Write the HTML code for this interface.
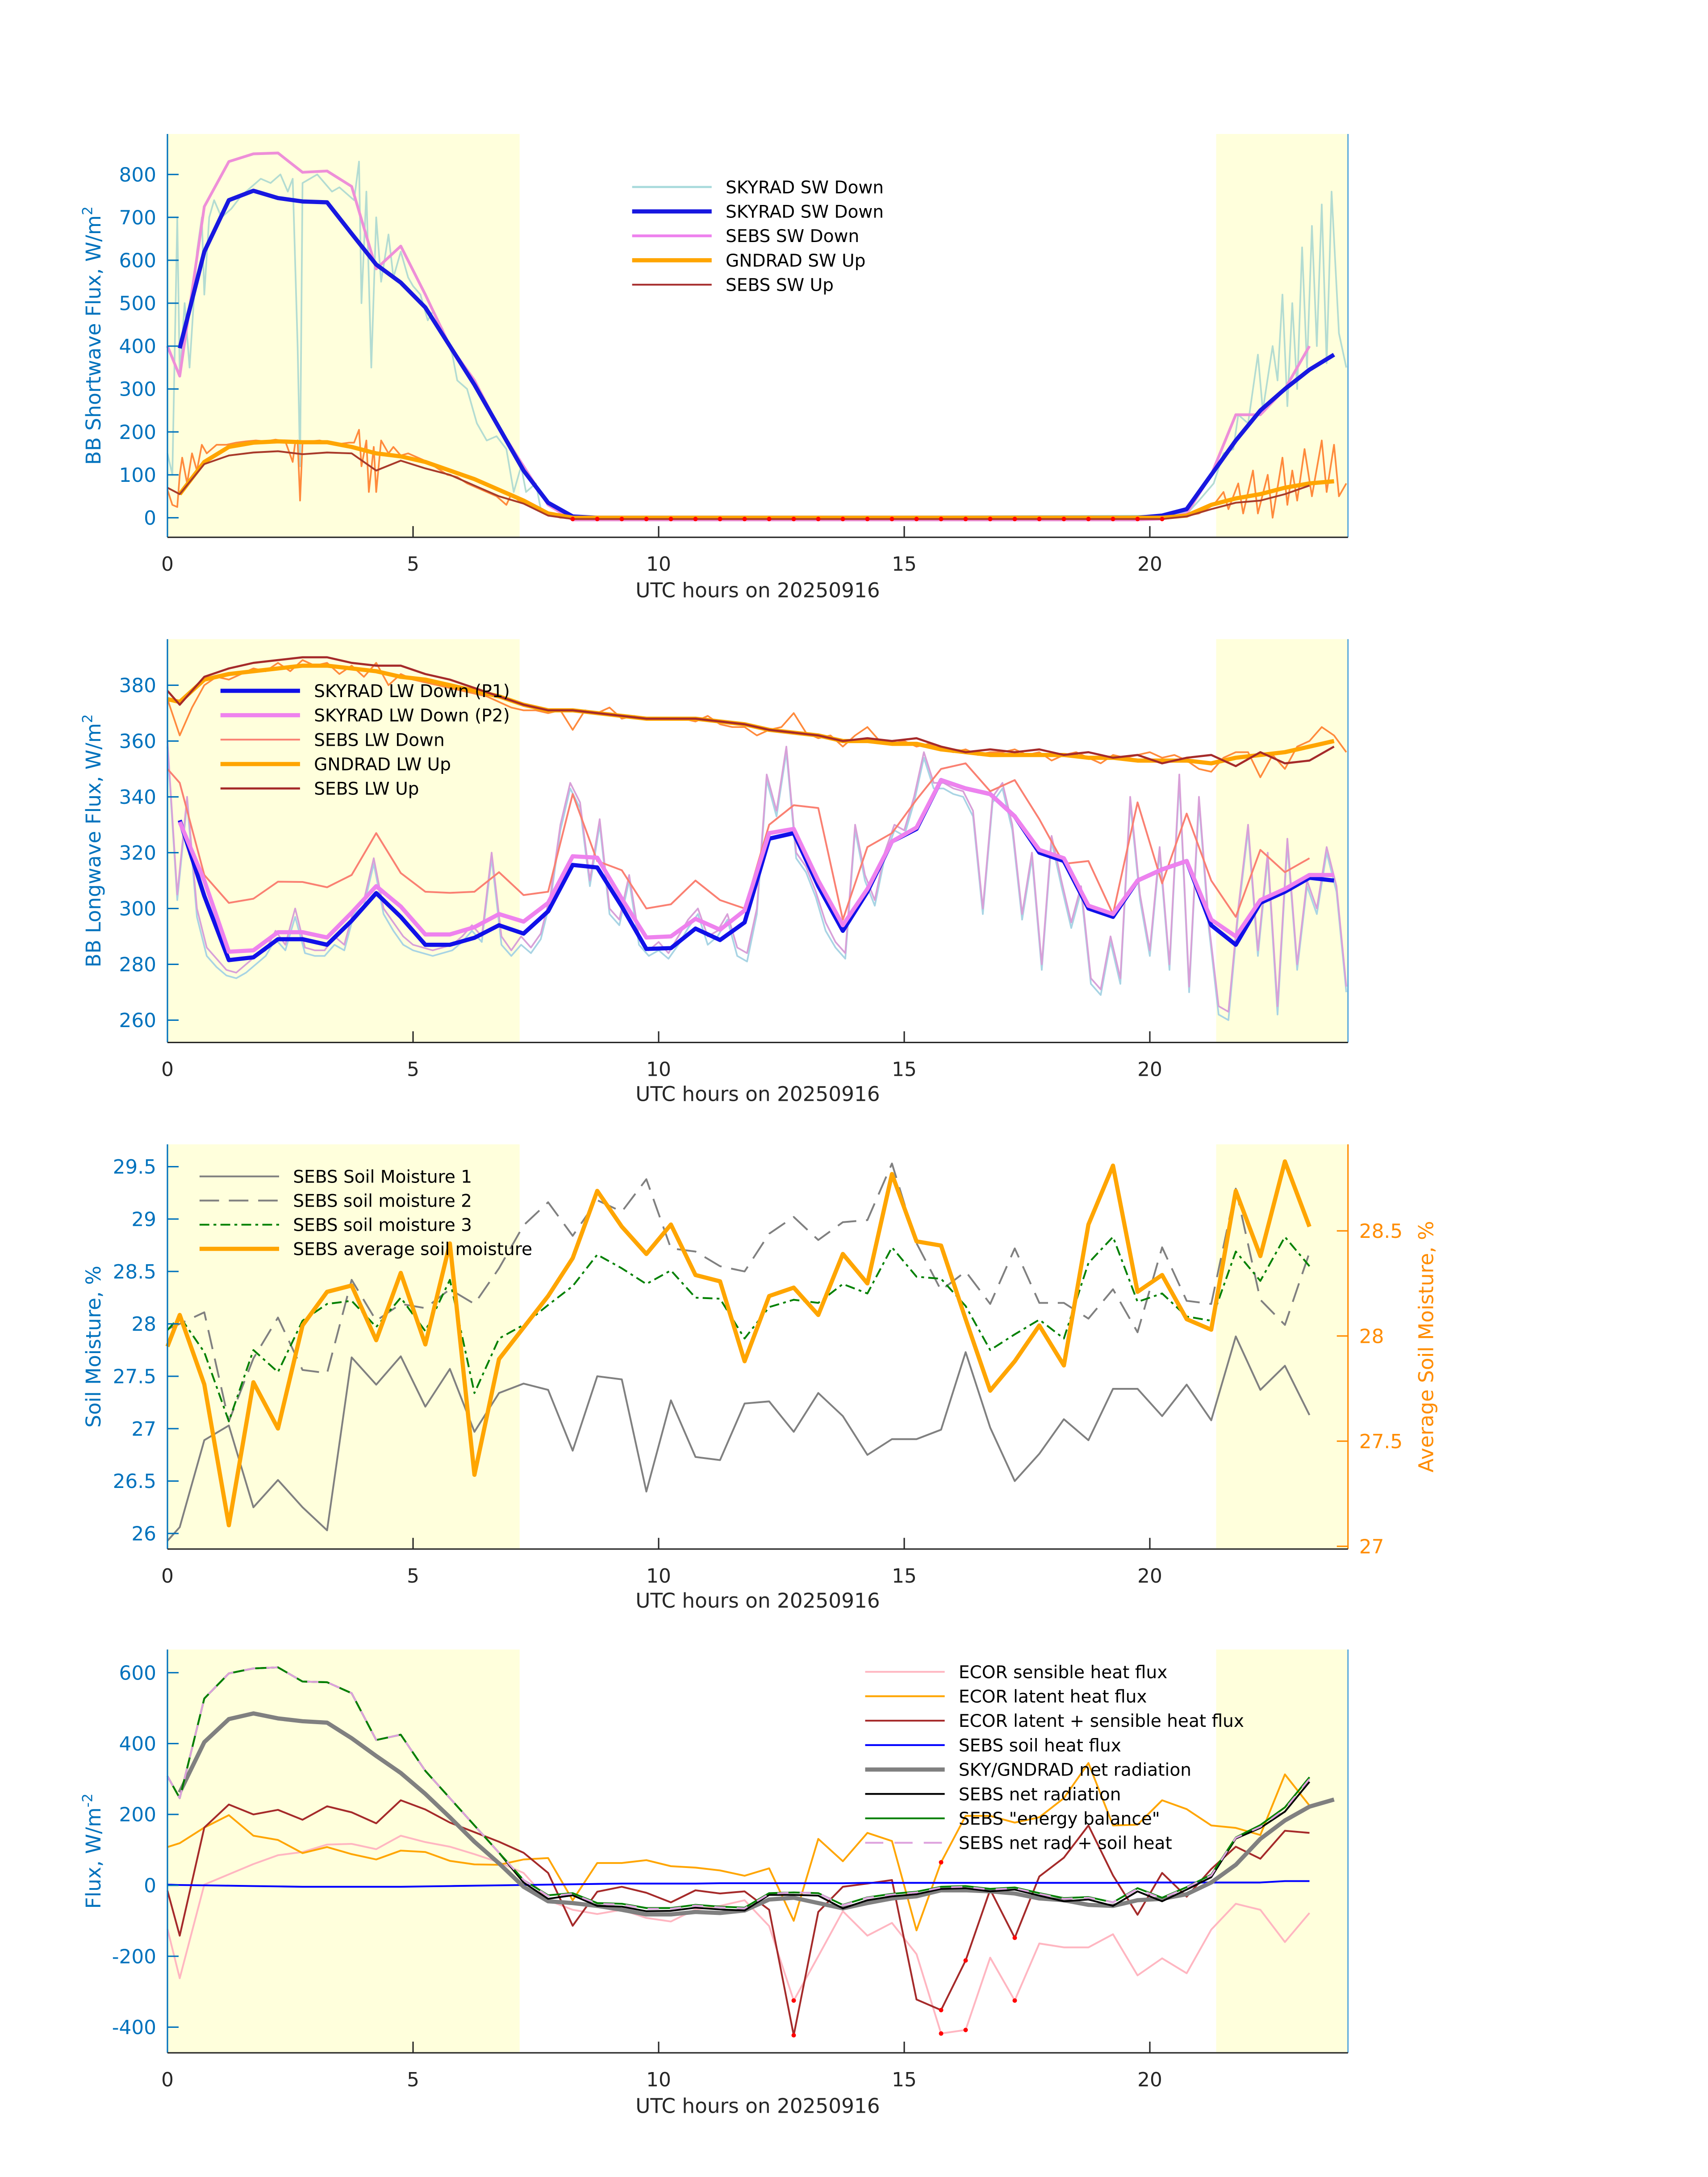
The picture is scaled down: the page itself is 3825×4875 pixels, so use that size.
<!DOCTYPE html>
<html><head><meta charset="utf-8"><style>
html,body{margin:0;padding:0;background:#fff;}
svg{display:block;}
text{font-family:"DejaVu Sans","Liberation Sans",sans-serif;}
</style></head><body>
<svg id="fig" xmlns="http://www.w3.org/2000/svg" width="3825" height="4875" viewBox="0 0 1224 1560">
<rect x="0" y="0" width="1224" height="1560" fill="#ffffff"/>
</svg>
<script>
// ---------- DATA ----------
const hh = [0];
for (let i = 0; i < 48; i++) hh.push(0.25 + 0.5 * i);

// Panel 1 (shortwave)
const swSkyradDown = [null,395,620,740,762,745,737,735,662,590,548,490,400,310,210,110,35,3,0,0,0,0,0,0,0,0,0,0,0,0,0,0,0,0,0,0,0,0,0,0,0,5,20,100,180,250,300,345,380];
const swSebsDown = [400,330,725,830,848,850,805,808,772,580,633,520,400,320,210,120,30,-5,-5,-5,-5,-5,-5,-5,-5,-5,-5,-5,-5,-5,-5,-5,-5,-5,-5,-5,-5,-5,-5,-5,-5,-3,10,100,240,240,300,400];
const swGndradUp = [null,55,130,165,175,178,176,176,165,150,143,130,110,90,65,40,10,0,0,0,0,0,0,0,0,0,0,0,0,0,0,0,0,0,0,0,0,0,0,0,0,0,5,30,45,55,70,80,85];
const swSebsUp = [70,55,125,145,152,155,148,152,150,110,133,115,100,75,50,33,5,-3,-3,-3,-3,-3,-3,-3,-3,-3,-3,-3,-3,-3,-3,-3,-3,-3,-3,-3,-3,-3,-3,-3,-3,-3,3,20,35,40,55,75];
const swMinT = [0,0.1,0.2,0.25,0.35,0.45,0.6,0.7,0.75,0.85,0.95,1.1,1.3,1.5,1.7,1.9,2.1,2.3,2.45,2.55,2.65,2.7,2.75,2.9,3.05,3.2,3.35,3.5,3.65,3.8,3.9,3.95,4.05,4.15,4.25,4.35,4.5,4.6,4.75,4.9,5.0,5.15,5.3,5.4,5.6,5.8,5.9,6.1,6.3,6.5,6.7,6.9,7.05,7.2,7.3,7.5,7.6,7.8,8.0,8.3,20.5,20.8,21.0,21.3,21.5,21.7,21.8,22.0,22.2,22.3,22.5,22.6,22.7,22.8,22.9,23.0,23.1,23.2,23.3,23.4,23.5,23.6,23.7,23.85,24.0];
const swMinDown = [150,100,700,330,500,350,620,700,520,700,740,700,720,750,770,790,780,800,760,790,400,120,780,790,800,780,760,770,755,740,830,500,760,350,700,550,660,560,620,560,540,520,460,480,440,380,320,300,220,180,190,160,60,120,60,80,20,10,5,0,5,15,40,80,150,160,240,220,380,250,400,320,520,260,500,300,630,350,680,400,730,360,760,430,350];
const upMinT = [0,0.1,0.2,0.25,0.3,0.4,0.5,0.6,0.7,0.8,1.0,1.2,1.4,1.6,1.8,2.0,2.2,2.4,2.55,2.6,2.65,2.7,2.75,2.9,3.1,3.3,3.5,3.7,3.8,3.9,3.95,4.05,4.1,4.2,4.25,4.35,4.5,4.6,4.75,4.9,5.1,5.3,5.5,5.7,5.9,6.1,6.3,6.5,6.7,6.9,7.0,7.15,7.3,7.5,7.7,8.0,20.5,21.0,21.3,21.5,21.6,21.8,21.9,22.1,22.2,22.4,22.5,22.7,22.8,22.9,23.0,23.15,23.3,23.5,23.6,23.75,23.85,24.0];
const upMinVal = [65,30,25,100,140,80,150,110,170,150,170,170,175,178,180,178,182,178,130,175,180,40,175,178,180,175,172,175,175,205,120,180,60,165,60,180,150,165,145,150,140,130,115,100,95,80,70,60,50,30,55,40,30,25,10,0,0,10,30,60,20,80,10,110,10,100,0,140,30,110,40,160,50,180,60,170,50,80];

// Panel 2 (longwave)
const lwSkyP1 = [null,331.6,304.5,281.5,282.5,289,289,287,295.6,305.5,297,287,287,289.5,294,291,299,315.6,314.7,300.7,285.5,285.8,292.8,288.7,295,325,327,308,292,306,324,328.5,346,343,341,333,320,317,300,297,310,314,317,294,287,302,306,311,310];
const lwSkyP2 = [null,331,310,284.5,285,291.5,291.5,289.6,298.5,308,300.7,290.7,290.7,293.3,298,295.3,302,318.7,318.2,303.5,289.6,290,296.3,292.4,299.3,327,328.5,310,294,307,324,329,346,343,341,333,321,318,301,298,310,314,317,296,290,303,307,312,312];
const lwSebsDown = [350,345,312,302,303.5,309.6,309.5,307.6,312,327,312.7,306,305.6,306,313,304.8,306,341,317,313.7,300,301.5,310,303,300,330,337,336,296,322,327,339,350,352,342,346,332,316,317,298,338,309,334,310,297,321,313,318];
const lwGndUp = [375,374,382,384,385,386,387,387,386,385,383,382,380,378,376,373,371,371,370,369,368,368,368,367,366,364,363,362,360,360,359,359,357,356,355,355,355,355,354,354,353,353,353,352,354,355,356,358,360];
const lwSebsUp = [378,373,383,386,388,389,390,390,388,387,387,384,382,379,376,373,371,371,370,369,368,368,368,367,366,364,363,362,360,361,360,361,358,356,357,356,357,355,356,354,355,352,354,355,351,356,352,353,358,361];
const lwMinT = [];
for (let i = 0; i <= 120; i++) lwMinT.push(i * 0.2);
const lwMinP2 = [360,305,340,300,286,282,278,277,280,283,285,292,287,300,286,285,285,290,287,300,303,318,300,295,290,287,286,285,286,287,290,294,290,320,290,285,290,286,291,305,330,345,338,310,332,300,296,312,290,285,288,284,290,296,300,290,292,298,286,284,300,348,335,358,320,315,306,295,288,284,330,312,303,320,330,328,340,356,345,345,343,342,335,300,340,345,330,298,320,280,326,310,295,308,275,271,290,275,340,305,285,322,280,348,272,340,295,265,263,300,330,285,320,265,325,280,310,300,322,308,272];
const lwMinP1 = [358,303,338,297,283,279,276,275,277,280,283,289,285,297,284,283,283,287,285,298,301,316,298,292,287,285,284,283,284,285,288,292,288,318,287,283,287,284,289,303,328,343,336,308,330,298,294,310,287,283,285,282,287,293,298,287,290,296,283,281,298,346,333,356,318,313,304,292,286,282,328,310,301,318,328,326,338,354,343,343,341,340,333,298,338,343,328,296,318,278,324,308,293,306,273,269,288,273,338,303,283,320,278,346,270,338,293,262,260,298,328,283,318,262,323,278,308,298,320,306,270];
const lwMinUpT = [];
for (let i = 0; i <= 96; i++) lwMinUpT.push(i * 0.25);
const lwMinUp = [375,362,372,380,383,382,384,386,385,388,385,389,387,388,384,387,383,388,380,384,382,381,380,379,378,377,376,374,372,371,371,370,371,364,371,370,372,368,369,368,368,368,368,367,369,366,365,365,362,364,365,370,363,361,362,358,362,365,360,359,360,358,359,357,356,357,355,356,356,357,355,356,353,355,356,354,352,355,354,355,356,354,355,353,350,349,354,356,356,347,355,350,358,360,365,362,356];

// Panel 3 (soil moisture)
const sm1 = [25.93,26.06,26.89,27.03,26.25,26.51,26.25,26.03,27.68,27.42,27.69,27.21,27.57,26.97,27.34,27.43,27.37,26.79,27.50,27.47,26.40,27.27,26.73,26.70,27.24,27.26,26.97,27.34,27.12,26.75,26.90,26.90,26.99,27.73,27.01,26.50,26.76,27.09,26.89,27.38,27.38,27.12,27.42,27.08,27.88,27.37,27.60,27.13];
const sm2 = [27.95,28.00,28.11,27.07,27.67,28.06,27.56,27.53,28.42,28.03,28.19,28.15,28.33,28.19,28.53,28.94,29.16,28.84,29.18,29.07,29.38,28.72,28.69,28.55,28.50,28.86,29.02,28.80,28.97,28.99,29.53,28.77,28.32,28.50,28.19,28.72,28.20,28.20,28.05,28.33,27.92,28.73,28.22,28.19,29.29,28.23,27.99,28.68];
const sm3 = [27.94,28.07,27.73,27.07,27.75,27.54,28.03,28.19,28.22,27.97,28.25,27.93,28.42,27.34,27.86,27.99,28.18,28.36,28.66,28.53,28.38,28.51,28.25,28.24,27.86,28.16,28.23,28.20,28.38,28.29,28.73,28.45,28.43,28.17,27.75,27.90,28.04,27.86,28.58,28.83,28.21,28.29,28.07,28.03,28.69,28.41,28.83,28.55];
const smAvg = [27.95,28.10,27.77,27.10,27.78,27.56,28.05,28.21,28.24,27.98,28.30,27.96,28.44,27.34,27.89,28.04,28.19,28.37,28.69,28.52,28.39,28.53,28.29,28.26,27.88,28.19,28.23,28.10,28.39,28.25,28.77,28.45,28.43,28.08,27.74,27.88,28.05,27.86,28.53,28.81,28.21,28.29,28.08,28.03,28.69,28.38,28.83,28.52];

// Panel 4 (fluxes)
const ecorSensible = [-123,-262,2,31,60,85,94,115,117,102,140,122,109,88,65,35,-42,-69,-81,-69,-92,-102,-68,-58,-42,-115,-325,-200,-73,-142,-106,-194,-418,-408,-204,-325,-164,-175,-175,-138,-254,-206,-248,-125,-52,-69,-160,-78];
const ecorLatent = [108,119,163,198,140,128,91,108,88,73,98,94,69,59,58,73,77,-42,63,63,71,54,50,42,27,48,-100,131,68,148,125,-127,65,196,196,177,192,246,345,169,171,240,215,169,162,142,313,225];
const ecorSum = [-15,-142,163,228,200,213,185,223,206,175,240,214,177,150,123,92,35,-114,-18,-4,-21,-48,-14,-23,-17,-69,-423,-75,-4,5,15,-322,-352,-212,-12,-148,25,78,169,28,-83,35,-32,46,109,75,154,148];
const sebsSoilHeat = [2,1,0,-1,-2,-3,-4,-4,-4,-4,-4,-3,-2,-1,0,1,2,3,4,5,5,5,5,6,6,6,6,6,6,7,7,7,7,7,7,7,7,7,7,7,8,8,8,8,8,8,12,12];
const skyGndNet = [null,262,404,469,485,471,463,459,415,365,317,258,192,123,62,-4,-45,-50,-58,-69,-82,-82,-75,-78,-71,-40,-35,-50,-65,-50,-37,-31,-14,-14,-17,-23,-37,-42,-55,-58,-42,-38,-25,8,58,131,183,222,242];
const sebsNet = [308,246,527,598,612,615,575,573,542,410,425,323,246,169,92,8,-38,-28,-58,-60,-73,-72,-63,-68,-71,-27,-27,-29,-65,-42,-31,-25,-10,-8,-17,-12,-29,-45,-40,-58,-17,-45,-12,23,132,162,208,292];
const sebsEnergyBal = [308,246,527,598,612,615,575,573,542,410,425,323,246,169,92,15,-28,-22,-50,-52,-64,-64,-55,-60,-63,-22,-20,-22,-55,-34,-24,-18,-4,-2,-10,-6,-22,-36,-33,-48,-8,-35,-5,30,135,170,220,305];
const sebsNetPlusSoil = [308,246,527,598,612,615,575,573,542,410,425,323,246,169,92,15,-30,-24,-52,-54,-66,-66,-57,-62,-65,-24,-20,-22,-56,-35,-26,-20,-6,-4,-12,-8,-24,-38,-35,-48,-10,-37,-6,28,134,165,215,300];
const flagIdx = [26,32,33,35];
const flagLatentIdx = [32];

const xTicks = [0,5,10,15,20];
const p1Ticks = [0,100,200,300,400,500,600,700,800];
const p2Ticks = [260,280,300,320,340,360,380];
const p3Ticks = [26,26.5,27,27.5,28,28.5,29,29.5];
const p3RightTicks = [27,27.5,28,28.5];
const p4Ticks = [-400,-200,0,200,400,600];

// ---------- DRAW ----------
const NS = "http://www.w3.org/2000/svg";
const svg = document.getElementById("fig");
const X0 = 120, X1 = 966, XMAX = 24.034;
function xs(t){ return X0 + t / XMAX * (X1 - X0); }
function mk(tag, attrs, parent){
  const e = document.createElementNS(NS, tag);
  for (const k in attrs) e.setAttribute(k, attrs[k]);
  (parent || svg).appendChild(e);
  return e;
}
function txt(str, x, y, size, fill, anchor, parent){
  const e = mk("text", {x:x, y:y, "font-size":size, fill:fill, "text-anchor":anchor||"start"}, parent);
  e.textContent = str;
  return e;
}
function line(times, vals, ymap, stroke, width, dash, name, parent){
  let d = "", pen = false;
  for (let i = 0; i < vals.length && i < times.length; i++){
    const v = vals[i];
    if (v === null || v === undefined){ pen = false; continue; }
    d += (pen ? "L" : "M") + xs(times[i]).toFixed(2) + " " + ymap(v).toFixed(2);
    pen = true;
  }
  const p = mk("path", {d:d, fill:"none", stroke:stroke, "stroke-width":width, "stroke-linejoin":"round"}, parent);
  if (dash) p.setAttribute("stroke-dasharray", dash);
  
  
  return p;
}
function dots(times, vals, idxs, ymap, name, parent){
  for (const i of idxs){
    const c = mk("circle", {cx:xs(times[i]), cy:ymap(vals[i]), r:1.6, fill:"#ff0000"}, parent);
    
    
  }
}
function panel(name, top, bottom, ymap, ticks, ylabel, ylabelSup, xlabY, rightColor){
  const g = mk("g", {});
  
  
  const s1 = mk("rect", {x:X0, y:top, width:xs(7.17)-X0, height:bottom-top, fill:"#ffffdc"}, g);
  
  
  const s2 = mk("rect", {x:xs(21.35), y:top, width:X1-xs(21.35), height:bottom-top, fill:"#ffffdc"}, g);
  
  
  const plot = mk("g", {}, g);
  
  
  const axes = mk("g", {}, g);
  
  
  const la = mk("line", {x1:X0, y1:top, x2:X0, y2:bottom, stroke:"#0072BD", "stroke-width":1}, axes);
  
  
  const ra = mk("line", {x1:X1, y1:top, x2:X1, y2:bottom, stroke:rightColor, "stroke-width":1}, axes);
  
  
  const ba = mk("line", {x1:X0, y1:bottom, x2:X1, y2:bottom, stroke:"#262626", "stroke-width":1}, axes);
  
  
  for (const t of ticks){
    const y = ymap(t);
    mk("line", {x1:X0, y1:y, x2:X0+8, y2:y, stroke:"#0072BD", "stroke-width":1}, axes);
    const tl = txt(String(t), X0-8, y+5, 14, "#0072BD", "end", axes);
    
    
  }
  for (const t of xTicks){
    const x = xs(t);
    if (t > 0) mk("line", {x1:x, y1:bottom, x2:x, y2:bottom-8, stroke:"#262626", "stroke-width":1}, axes);
    const tl = txt(String(t), x, bottom+24, 14, "#262626", "middle", axes);
    
    
  }
  const xl = txt("UTC hours on 20250916", (X0+X1)/2, xlabY, 14.5, "#262626", "middle", axes);
  
  
  const cy = (top+bottom)/2;
  const yl = mk("text", {x:0, y:0, "font-size":14.5, fill:"#0072BD", "text-anchor":"middle", transform:"translate(72,"+cy+") rotate(-90)"}, axes);
  yl.textContent = ylabel;
  const sup = mk("tspan", {"font-size":10, dy:-6}, yl);
  sup.textContent = ylabelSup;
  
  
  return {g:g, plot:plot};
}
function legend(parent, x, y0, dy, entries){
  const lg = mk("g", {}, parent);
  
  
  entries.forEach((e, i) => {
    const y = y0 + i*dy;
    const l = mk("line", {x1:x, y1:y, x2:x+57, y2:y, stroke:e[1], "stroke-width":e[2]}, lg);
    if (e[3]) l.setAttribute("stroke-dasharray", e[3]);
    
    
    const t = txt(e[0], x+67, y+4.5, 12.5, "#000", "start", lg);
    
    
  });
}

// Panel 1
const y1 = v => 371 - v*0.3075;
const P1 = panel("shortwave-panel", 96, 385, y1, p1Ticks, "BB Shortwave Flux, W/m", "2", 428, "#5aa9dc");
line(swMinT, swMinDown, y1, "#b3dcd2", 1.2, null, "skyrad-sw-down-1min", P1.plot);
line(upMinT, upMinVal, y1, "#ff8a3c", 1.2, null, "gndrad-sw-up-1min", P1.plot);
line(hh, swSebsDown, y1, "#ee8fd8", 2, null, "sebs-sw-down", P1.plot);
line(hh, swSkyradDown, y1, "#1818e0", 3, null, "skyrad-sw-down", P1.plot);
line(hh, swGndradUp, y1, "#ffa500", 3, null, "gndrad-sw-up", P1.plot);
line(hh, swSebsUp, y1, "#a83a2a", 1.3, null, "sebs-sw-up", P1.plot);
dots(hh, swSebsUp, [17,18,19,20,21,22,23,24,25,26,27,28,29,30,31,32,33,34,35,36,37,38,39,40,41], y1, "night-flag-dot", P1.plot);
legend(P1.g, 453, 134, 17.5, [["SKYRAD SW Down","#a8dadc",1.5],["SKYRAD SW Down","#1818e0",3],["SEBS SW Down","#ee82ee",2],["GNDRAD SW Up","#ffa500",3],["SEBS SW Up","#a52a2a",1.3]]);

// Panel 2
const y2 = v => 491 + (380 - v)*2;
const P2 = panel("longwave-panel", 458, 747, y2, p2Ticks, "BB Longwave Flux, W/m", "2", 789, "#5aa9dc");
line(lwMinT, lwMinP1, y2, "#a8d4e4", 1.2, null, "skyrad-lw-down-p1-1min", P2.plot);
line(lwMinT, lwMinP2, y2, "#d8a0d8", 1.2, null, "skyrad-lw-down-p2-1min", P2.plot);
line(lwMinUpT, lwMinUp, y2, "#ff8a3c", 1.2, null, "gndrad-lw-up-1min", P2.plot);
line(hh, lwSebsDown, y2, "#fa8072", 1.3, null, "sebs-lw-down", P2.plot);
line(hh, lwSkyP1, y2, "#1010e8", 3, null, "skyrad-lw-down-p1", P2.plot);
line(hh, lwSkyP2, y2, "#ee82ee", 3, null, "skyrad-lw-down-p2", P2.plot);
line(hh, lwGndUp, y2, "#ffa500", 3, null, "gndrad-lw-up", P2.plot);
line(hh, lwSebsUp, y2, "#a52a2a", 1.5, null, "sebs-lw-up", P2.plot);
legend(P2.g, 158, 495, 17.5, [["SKYRAD LW Down (P1)","#1010e8",3],["SKYRAD LW Down (P2)","#ee82ee",3],["SEBS LW Down","#fa8072",1.3],["GNDRAD LW Up","#ffa500",3],["SEBS LW Up","#a52a2a",1.5]]);

// Panel 3
const y3 = v => 836 + (29.5 - v)*75.1;
const y3r = v => 882 + (28.5 - v)*150.7;
const P3 = panel("soil-moisture-panel", 820, 1110, y3, p3Ticks, "Soil Moisture, %", "", 1152, "#ff8c00");
line(hh, sm1, y3, "#808080", 1.3, null, "soil-moisture-1", P3.plot);
line(hh, sm2, y3, "#808080", 1.3, "14 7", "soil-moisture-2", P3.plot);
line(hh, sm3, y3, "#008000", 1.3, "7 3 2 3", "soil-moisture-3", P3.plot);
line(hh, smAvg, y3r, "#ffa500", 3, null, "average-soil-moisture", P3.plot);
for (const t of p3RightTicks){
  const y = y3r(t);
  mk("line", {x1:X1-8, y1:y, x2:X1, y2:y, stroke:"#ff8c00", "stroke-width":1}, P3.g);
  const tl = txt(String(t), X1+8, y+5, 14, "#ff8c00", "start", P3.g);
  
  
}
const ryl = mk("text", {x:0, y:0, "font-size":14.5, fill:"#ff8c00", "text-anchor":"middle", transform:"translate(1027,965) rotate(-90)"}, P3.g);
ryl.textContent = "Average Soil Moisture, %";


legend(P3.g, 143, 843, 17.3, [["SEBS Soil Moisture 1","#808080",1.3],["SEBS soil moisture 2","#808080",1.3,"14 7"],["SEBS soil moisture 3","#008000",1.3,"7 3 2 3"],["SEBS average soil moisture","#ffa500",3]]);

// Panel 4
const y4 = v => 1351 - v*0.254;
const P4 = panel("energy-flux-panel", 1182, 1471, y4, p4Ticks, "Flux, W/m", "-2", 1514, "#5aa9dc");
line(hh, ecorSensible, y4, "#ffb6c1", 1.3, null, "ecor-sensible-heat-flux", P4.plot);
line(hh, ecorLatent, y4, "#ffa500", 1.3, null, "ecor-latent-heat-flux", P4.plot);
line(hh, ecorSum, y4, "#a52a2a", 1.3, null, "ecor-latent-plus-sensible", P4.plot);
line(hh, sebsSoilHeat, y4, "#0000ff", 1.3, null, "sebs-soil-heat-flux", P4.plot);
line(hh, skyGndNet, y4, "#808080", 3, null, "sky-gndrad-net-radiation", P4.plot);
line(hh, sebsNet, y4, "#000000", 1.3, null, "sebs-net-radiation", P4.plot);
line(hh, sebsEnergyBal, y4, "#008000", 1.3, null, "sebs-energy-balance", P4.plot);
line(hh, sebsNetPlusSoil, y4, "#dda0dd", 1.3, "8 8", "sebs-net-rad-plus-soil-heat", P4.plot);
dots(hh, ecorSum, flagIdx, y4, "ecor-flag-dot", P4.plot);
dots(hh, ecorSensible, flagIdx, y4, "ecor-flag-dot", P4.plot);
dots(hh, ecorLatent, flagLatentIdx, y4, "ecor-flag-dot", P4.plot);
legend(P4.g, 620, 1198, 17.5, [["ECOR sensible heat flux","#ffb6c1",1.3],["ECOR latent heat flux","#ffa500",1.3],["ECOR latent + sensible heat flux","#a52a2a",1.3],["SEBS soil heat flux","#0000ff",1.3],["SKY/GNDRAD net radiation","#808080",3],["SEBS net radiation","#000000",1.3],["SEBS \"energy balance\"","#008000",1.3],["SEBS net rad + soil heat","#dda0dd",1.3,"13 8"]]);
</script>
</body></html>
